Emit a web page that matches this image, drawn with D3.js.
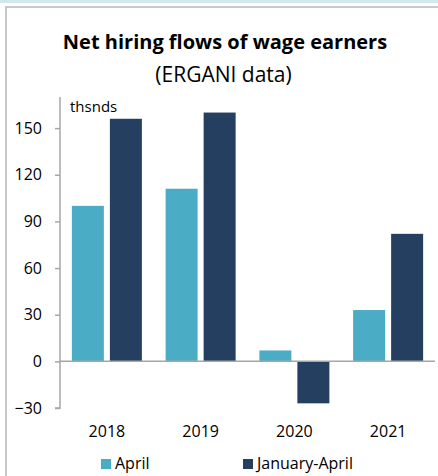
<!DOCTYPE html>
<html>
<head>
<meta charset="utf-8">
<script src="https://cdn.jsdelivr.net/npm/d3@7"></script>
<style>
  html, body { margin: 0; padding: 0; background: #fff; }
  svg { display: block; }
  text { font-family: "Open Sans", sans-serif; fill: #000; }
</style>
</head>
<body>
<svg id="chart" width="438" height="476"></svg>
<script>
// Net hiring flows, thousands of wage earners
const years = ["2018", "2019", "2020", "2021"];
const seriesNames = ["April", "January-April"];
const aprilValues = [100, 111, 7, 33];
const janAprValues = [156, 160, -27, 82];
const yTicks = [-30, 0, 30, 60, 90, 120, 150];
const seriesColors = ["#4bacc6", "#243f60"];

const rows = years.map((y, i) => ({ year: y, values: [aprilValues[i], janAprValues[i]] }));

const svg = d3.select("#chart");
const W = 438, H = 476;
const FONT = "'Open Sans', sans-serif";

// outer frame
svg.append("rect").attr("x", 0).attr("y", 0).attr("width", W).attr("height", 3).attr("fill", "#d3e8ec");
svg.append("path")
  .attr("d", `M6,${H} V7 H${W}`)
  .attr("fill", "none").attr("stroke", "#c8c8c8").attr("stroke-width", 2);

// titles
svg.append("text").attr("x", 225).attr("y", 49).attr("text-anchor", "middle")
  .attr("font-weight", "bold").attr("font-size", 20).text("Net hiring flows of wage earners");
svg.append("text").attr("x", 223.5).attr("y", 82).attr("text-anchor", "middle")
  .attr("font-size", 21).text("(ERGANI data)");

// scales
const x = d3.scaleBand().domain(years).range([60, 435]).padding(0);
const xs = d3.scaleBand().domain(seriesNames).range([0, x.bandwidth()])
  .paddingInner(0.158).paddingOuter(0.3125);
const y = d3.scaleLinear().domain([-30, 170]).range([408, 97]);

// y axis
const yAxis = svg.append("g").attr("transform", "translate(60,0)")
  .call(d3.axisLeft(y).tickValues(yTicks).tickSize(5).tickPadding(13).tickFormat(d3.format("d")));
yAxis.select(".domain").attr("d", `M0,${y(170)}V${y(-30)}H-5`).attr("stroke", "#a6a6a6").attr("stroke-width", 1.5);
yAxis.selectAll(".tick line").attr("stroke", "#a6a6a6").attr("stroke-width", 1.5);
yAxis.selectAll(".tick text").attr("font-size", 16).attr("font-family", FONT).attr("fill", "#000");

svg.append("text").attr("x", 70).attr("y", 112).attr("font-size", 15).text("thsnds");

// bars
const groups = svg.append("g").selectAll("g").data(rows).join("g")
  .attr("transform", d => `translate(${x(d.year)},0)`);
groups.selectAll("rect").data(d => d.values.map((v, i) => ({ v, s: seriesNames[i], c: seriesColors[i] })))
  .join("rect")
  .attr("x", d => xs(d.s))
  .attr("width", xs.bandwidth())
  .attr("y", d => y(Math.max(0, d.v)))
  .attr("height", d => Math.abs(y(d.v) - y(0)))
  .attr("fill", d => d.c);

// zero line
svg.append("line").attr("x1", 60).attr("x2", 435).attr("y1", y(0)).attr("y2", y(0))
  .attr("stroke", "#a6a6a6").attr("stroke-width", 1.5);

// category labels
const xAxis = svg.append("g").attr("transform", "translate(0,408)")
  .call(d3.axisBottom(x).tickSize(0).tickPadding(18));
xAxis.select(".domain").remove();
xAxis.selectAll(".tick text").attr("font-size", 16).attr("font-family", FONT).attr("fill", "#000");

// legend
const legendX = [101, 243];
const legend = svg.append("g").selectAll("g").data(seriesNames).join("g")
  .attr("transform", (d, i) => `translate(${legendX[i]},459)`);
legend.append("rect").attr("width", 10).attr("height", 10).attr("fill", (d, i) => seriesColors[i]);
legend.append("text").attr("x", 14).attr("y", 10).attr("font-size", 16).text(d => d);
</script>
</body>
</html>
